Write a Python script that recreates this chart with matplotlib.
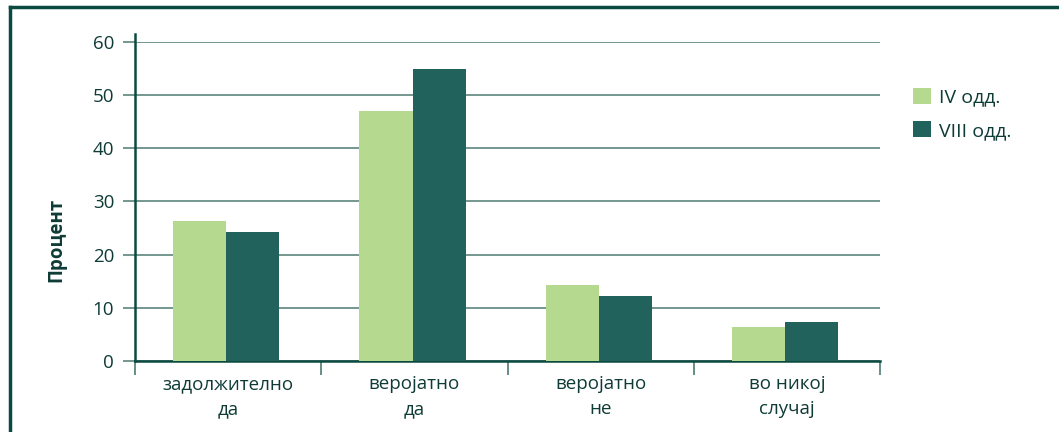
import numpy as np
import matplotlib.pyplot as plt
from matplotlib.lines import Line2D

# Податоци по одговор и одделение (во проценти)
kategorii = ["задолжително\nда", "веројатно\nда", "веројатно\nне", "во никој\nслучај"]
iv_odd = [26.3, 47.0, 14.3, 6.4]
viii_odd = [24.3, 55.0, 12.2, 7.3]
serii = ["IV одд.", "VIII одд."]

svetla = "#b5d98f"
temna = "#21625c"
tekst = "#0e3b35"
mreza = "#4e7a72"
ramka = "#0b4a40"

plt.rcParams["font.family"] = ["Open Sans", "DejaVu Sans"]

fig = plt.figure(figsize=(10.59, 4.32), dpi=100)
ax = fig.add_axes([0.1275, 0.1644, 0.7035, 0.7384])

x = np.arange(len(kategorii))
sirina = 0.285
ax.bar(x - sirina / 2 - 0.01, iv_odd, sirina, color=svetla, label=serii[0], zorder=3)
ax.bar(x + sirina / 2 - 0.01, viii_odd, sirina, color=temna, label=serii[1], zorder=3)

ax.set_xlim(-0.5, 3.5)
ax.set_ylim(0, 60)
ax.set_yticks(range(0, 61, 10))
ax.yaxis.grid(True, color=mreza, linewidth=1.1, zorder=0)

# граничници меѓу категориите
ax.set_xticks(np.arange(-0.5, 3.6, 1))
ax.set_xticklabels([])
ax.set_xticks(x, minor=True)
ax.set_xticklabels(kategorii, minor=True, fontsize=13.5, color=tekst, linespacing=1.5)
ax.tick_params(axis="x", which="minor", length=0, pad=10)
ax.tick_params(axis="x", which="major", length=10, width=1.2, color=mreza)
ax.tick_params(axis="y", length=9, width=1.1, color=mreza, labelsize=13.5, labelcolor=tekst, pad=6)

for s in ["top", "right"]:
    ax.spines[s].set_visible(False)
ax.spines["left"].set_color(ramka)
ax.spines["left"].set_linewidth(1.8)
ax.spines["left"].set_bounds(0, 61.5)
ax.spines["bottom"].set_color(ramka)
ax.spines["bottom"].set_linewidth(1.8)

ax.set_ylabel("Процент", fontsize=13.5, fontweight="bold", color=tekst)
ax.yaxis.set_label_coords(-0.092, 0.38)

leg = fig.legend(loc="upper left", bbox_to_anchor=(0.846, 0.837), frameon=False,
                 handlelength=0.9, handleheight=0.9, handletextpad=0.4,
                 labelspacing=0.75, fontsize=14)
for t in leg.get_texts():
    t.set_color(tekst)

# рамка лево и горе
fig.add_artist(Line2D([0.009, 0.009], [0, 0.984], transform=fig.transFigure, color=ramka, linewidth=2.5))
fig.add_artist(Line2D([0.009, 1.0], [0.984, 0.984], transform=fig.transFigure, color=ramka, linewidth=2.5))

fig.savefig("out.png", dpi=100)
